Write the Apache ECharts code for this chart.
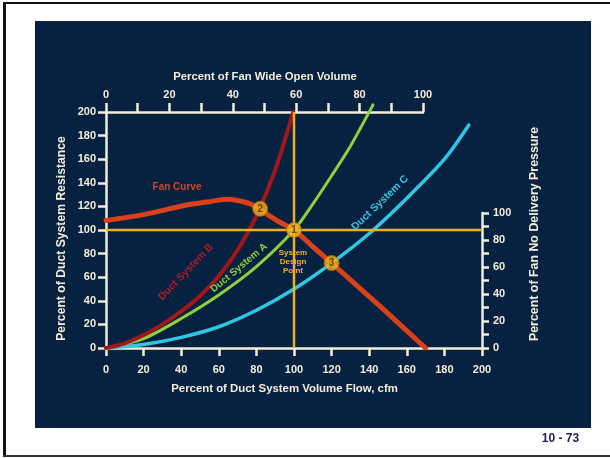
<!DOCTYPE html>
<html><head><meta charset="utf-8">
<script src="https://cdn.jsdelivr.net/npm/echarts@6/dist/echarts.min.js"></script>
<style>html,body{margin:0;padding:0;background:#fff}#c{width:610px;height:458px}</style>
</head><body><div id="c"></div>
<script>
// ---- data ----
const flowTicks = [0, 20, 40, 60, 80, 100, 120, 140, 160, 180, 200];          // % duct system volume flow, cfm
const resistanceTicks = [0, 20, 40, 60, 80, 100, 120, 140, 160, 180, 200];    // % duct system resistance
const wideOpenTicks = [0, 20, 40, 60, 80, 100];                                // % fan wide open volume
const noDeliveryTicks = [0, 20, 40, 60, 80, 100];                              // % fan no delivery pressure

const fanCurve = [[0,108],[20,113],[41,120.5],[55,124],[64,126],[70,125],[77,122],[82,117],[92,107],[100,100],[110,86],[120,72],[146,35],[170,0]];
const ductB = [[0,0],[10,4],[20,11],[30,20],[40,31],[50,44],[60,61],[70,83],[80,112],[90,151],[99.6,200]];
const ductA = [[0,0],[20,8],[40,25],[60,45],[80,69],[100,100],[110,122],[120,146],[130,171],[142,206]];
const ductC = [[0,0],[20,3],[40,9],[60,18],[80,32],[100,50],[120,72],[140,97],[160,127],[180,160],[193,189]];
const designLineH = [[0,100],[200,100]];
const designLineV = [[100,0],[100,200]];
const operatingPoints = [
  {name:'1', value:[100,100]},
  {name:'2', value:[82,118]},
  {name:'3', value:[120,72]}
];

// ---- styling ----
const FONT = '"Liberation Sans", Arial, Helvetica, sans-serif';
const AX = '#f2eedb';
const YEL = '#e9b022';
const lbl = {color: AX, fontWeight: 'bold', fontSize: 11, fontFamily: FONT};

const chart = echarts.init(document.getElementById('c'), null, {renderer: 'canvas'});

function curve(data, color, width, extra) {
  return Object.assign({
    type: 'line', xAxisIndex: 0, yAxisIndex: 0, data: data, smooth: 0.3,
    symbol: 'none', lineStyle: {color: color, width: width, cap: 'round'}, z: 3, silent: true
  }, extra || {});
}

const option = {
  backgroundColor: '#ffffff',
  animation: false,
  grid: [
    {left: 106, top: 112, width: 376, height: 236},
    {left: 106, top: 112, width: 317, height: 236},
    {left: 106, top: 213, width: 376, height: 135}
  ],
  xAxis: [
    {gridIndex: 0, type: 'value', min: flowTicks[0], max: flowTicks[flowTicks.length-1], interval: 20, position: 'bottom',
     axisLine: {show: true, onZero: false, lineStyle: {color: AX, width: 2.5}},
     axisTick: {show: true, length: 8, lineStyle: {color: AX, width: 2.5}},
     axisLabel: Object.assign({margin: 16}, lbl), splitLine: {show: false}},
    {gridIndex: 1, type: 'value', min: wideOpenTicks[0], max: wideOpenTicks[wideOpenTicks.length-1], interval: 10, position: 'top',
     axisLine: {show: true, onZero: false, lineStyle: {color: AX, width: 2.5}},
     axisTick: {show: true, length: 9, lineStyle: {color: AX, width: 2.5}},
     axisLabel: Object.assign({margin: 12, formatter: v => wideOpenTicks.includes(v) ? String(v) : ''}, lbl),
     splitLine: {show: false}},
    {gridIndex: 2, type: 'value', min: 0, max: 200, show: false}
  ],
  yAxis: [
    {gridIndex: 0, type: 'value', min: resistanceTicks[0], max: resistanceTicks[resistanceTicks.length-1], interval: 20, position: 'left',
     axisLine: {show: true, onZero: false, lineStyle: {color: AX, width: 2.5}},
     axisTick: {show: true, length: 8, lineStyle: {color: AX, width: 2.5}},
     axisLabel: Object.assign({margin: 10}, lbl), splitLine: {show: false}},
    {gridIndex: 1, type: 'value', min: 0, max: 200, show: false},
    {gridIndex: 2, type: 'value', min: noDeliveryTicks[0], max: noDeliveryTicks[noDeliveryTicks.length-1], interval: 10, position: 'right',
     axisLine: {show: true, onZero: false, lineStyle: {color: AX, width: 2.5}},
     axisTick: {show: true, length: 7, lineStyle: {color: AX, width: 2.5}},
     axisLabel: Object.assign({margin: 11, formatter: v => noDeliveryTicks.includes(v) ? String(v) : ''}, lbl),
     splitLine: {show: false}}
  ],
  series: [
    curve(ductC, '#2fc7e2', 3.5),
    curve(ductA, '#8fd03c', 3, {clip: false}),
    curve(ductB, '#a3161c', 4),
    curve(fanCurve, '#d9411d', 5),
    {type: 'line', data: designLineH, symbol: 'none', lineStyle: {color: YEL, width: 2.5}, z: 4, silent: true},
    {type: 'line', data: designLineV, symbol: 'none', lineStyle: {color: YEL, width: 2.5}, z: 4, silent: true},
    {type: 'scatter', data: operatingPoints, symbol: 'circle', symbolSize: 15, z: 6, silent: true,
     itemStyle: {color: '#f1b41e', borderColor: '#a87200', borderWidth: 1},
     label: {show: true, position: 'inside', formatter: p => p.name, color: '#4a2c00', fontSize: 10, fontWeight: 'bold', fontFamily: FONT}}
  ],
  graphic: [
    {type: 'rect', z: -100, shape: {x: 35, y: 21, width: 556, height: 407}, style: {fill: '#072140'}},
    {type: 'rect', z: -99, shape: {x: 3, y: 2, width: 3, height: 455}, style: {fill: '#111'}},
    {type: 'rect', z: -99, shape: {x: 3, y: 2, width: 607, height: 2}, style: {fill: '#111'}},
    {type: 'rect', z: -99, shape: {x: 3, y: 455, width: 607, height: 2}, style: {fill: '#333'}},
    {type: 'text', z: 100, x: 560.5, y: 439, style: {text: '10 - 73', fill: '#1b1b5e', font: 'bold 12px ' + FONT, textAlign: 'center', textVerticalAlign: 'middle'}},
    {type: 'text', z: 100, x: 265, y: 77, style: {text: 'Percent of Fan Wide Open Volume', fill: AX, font: 'bold 11.3px ' + FONT, textAlign: 'center', textVerticalAlign: 'middle'}},
    {type: 'text', z: 100, x: 284.5, y: 389, style: {text: 'Percent of Duct System Volume Flow, cfm', fill: AX, font: 'bold 11.4px ' + FONT, textAlign: 'center', textVerticalAlign: 'middle'}},
    {type: 'text', z: 100, x: 62, y: 238.5, rotation: Math.PI/2, style: {text: 'Percent of Duct System Resistance', fill: AX, font: 'bold 12.2px ' + FONT, textAlign: 'center', textVerticalAlign: 'middle'}},
    {type: 'text', z: 100, x: 535, y: 234, rotation: Math.PI/2, style: {text: 'Percent of Fan No Delivery Pressure', fill: AX, font: 'bold 12.4px ' + FONT, textAlign: 'center', textVerticalAlign: 'middle'}},
    {type: 'text', z: 100, x: 177, y: 187, style: {text: 'Fan Curve', fill: '#d9411d', font: 'bold 10px ' + FONT, textAlign: 'center', textVerticalAlign: 'middle'}},
    {type: 'text', z: 100, x: 186, y: 272, rotation: 46*Math.PI/180, style: {text: 'Duct System B', fill: '#b0192b', font: 'bold 10.5px ' + FONT, textAlign: 'center', textVerticalAlign: 'middle'}},
    {type: 'text', z: 100, x: 239, y: 268, rotation: 40*Math.PI/180, style: {text: 'Duct System A', fill: '#8fd03c', font: 'bold 10px ' + FONT, textAlign: 'center', textVerticalAlign: 'middle'}},
    {type: 'text', z: 100, x: 380, y: 203, rotation: 44*Math.PI/180, style: {text: 'Duct System C', fill: '#2fc7e2', font: 'bold 10.5px ' + FONT, textAlign: 'center', textVerticalAlign: 'middle'}},
    {type: 'text', z: 100, x: 293, y: 262, style: {text: 'System\nDesign\nPoint', fill: '#f0b020', font: 'bold 8px ' + FONT, textAlign: 'center', textVerticalAlign: 'middle', lineHeight: 9}}
  ]
};
chart.setOption(option);
</script>
</body></html>
